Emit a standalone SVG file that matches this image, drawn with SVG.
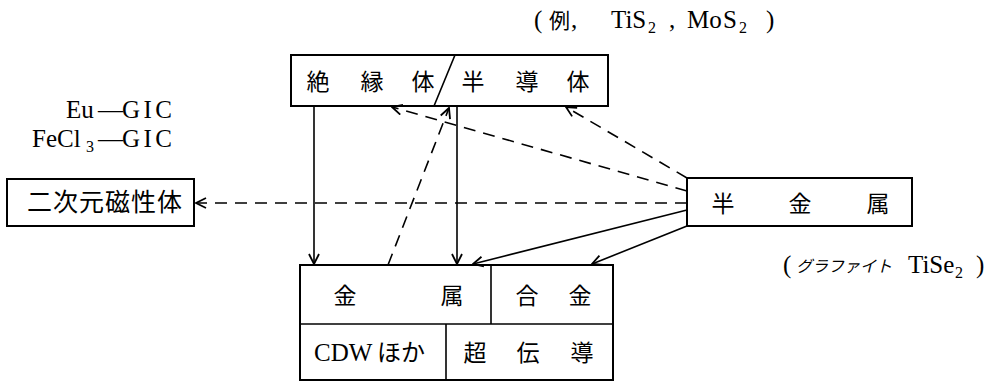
<svg xmlns="http://www.w3.org/2000/svg" width="990" height="384" viewBox="0 0 990 384">
<style>
.box{fill:#fff;stroke:#000;stroke-width:2}
.ln{fill:none;stroke:#000;stroke-width:1.6}
.cj{font-family:"Noto Sans CJK JP","Liberation Serif",serif;font-size:23px;fill:#000;text-anchor:middle}
.lt{font-family:"Liberation Serif","Times New Roman",serif;font-size:25px;fill:#000}
.jp{font-family:"Noto Sans CJK JP",serif;fill:#000}
.sb{font-family:"Liberation Serif",serif;font-size:16px;fill:#000}
.s{stroke:#000;stroke-width:1.6;fill:none}
.d{stroke:#000;stroke-width:1.6;fill:none;stroke-dasharray:12 8}
</style>
<defs>
<marker id="ah" viewBox="0 0 12 12" refX="11" refY="6" markerWidth="12" markerHeight="12" markerUnits="userSpaceOnUse" orient="auto">
<path d="M1,1 L11,6 L1,11" fill="none" stroke="#000" stroke-width="1.8"/>
</marker>
</defs>

<g id="labels">
<text class="lt" x="534" y="28">(</text>
<text class="jp" x="549" y="28" font-size="21">例</text>
<text class="lt" x="571" y="28">,</text>
<text class="lt" x="611" y="28">TiS</text>
<text class="sb" x="648" y="33">2</text>
<text class="lt" x="669" y="28">,</text>
<text class="lt" x="687" y="28">Mo</text>
<text class="lt" x="723" y="28">S</text>
<text class="sb" x="739" y="33">2</text>
<text class="lt" x="766" y="28">)</text>

<text class="lt" x="66" y="118" font-size="26">Eu</text>
<text class="lt" x="98" y="118" font-size="21">—</text>
<text class="lt" x="122" y="118" font-size="26" textLength="50" lengthAdjust="spacing">GIC</text>
<text class="lt" x="32" y="147" font-size="26">FeCl</text>
<text class="sb" x="86" y="152">3</text>
<text class="lt" x="98" y="147" font-size="21">—</text>
<text class="lt" x="122" y="147" font-size="26" textLength="50" lengthAdjust="spacing">GIC</text>

<text class="lt" x="783" y="273">(</text>
<text class="jp" x="796" y="272" font-size="16" font-style="italic">グラファイト</text>
<text class="lt" x="908" y="273">TiSe</text>
<text class="sb" x="955" y="278">2</text>
<text class="lt" x="976" y="273">)</text>
</g>

<g id="node-insulator-semiconductor">
<rect class="box" x="291" y="55" width="317" height="51"/>
<line class="ln" x1="455" y1="55" x2="434" y2="106"/>
<text class="cj" y="90"><tspan x="318">絶</tspan><tspan x="372">縁</tspan><tspan x="423">体</tspan><tspan x="473">半</tspan><tspan x="527">導</tspan><tspan x="578">体</tspan></text>
</g>

<g id="node-2d-magnet">
<rect class="box" x="7" y="179" width="187" height="47"/>
<text class="jp" x="27" y="211" font-size="25" textLength="155" lengthAdjust="spacing">二次元磁性体</text>
</g>

<g id="node-semimetal">
<rect class="box" x="687" y="178" width="225" height="48"/>
<text class="cj" y="212"><tspan x="723">半</tspan><tspan x="800">金</tspan><tspan x="878">属</tspan></text>
</g>

<g id="node-metal-group">
<rect class="box" x="300" y="265" width="313" height="115"/>
<line class="ln" x1="300" y1="324" x2="613" y2="324"/>
<line class="ln" x1="491" y1="265" x2="491" y2="324"/>
<line class="ln" x1="446" y1="324" x2="446" y2="380"/>
<text class="cj" y="304"><tspan x="345">金</tspan><tspan x="452">属</tspan><tspan x="527">合</tspan><tspan x="580">金</tspan></text>
<text class="lt" x="314" y="361" font-size="24">CDW</text>
<text class="jp" x="377" y="361" font-size="24">ほか</text>
<text class="cj" y="361"><tspan x="475">超</tspan><tspan x="528">伝</tspan><tspan x="582">導</tspan></text>
</g>

<g id="connectors">
<line class="s" x1="314" y1="106" x2="314" y2="264" marker-end="url(#ah)"/>
<line class="s" x1="457" y1="106" x2="457" y2="264" marker-end="url(#ah)"/>
<line class="d" x1="388" y1="265" x2="449" y2="108" marker-end="url(#ah)"/>
<line class="d" x1="687" y1="203" x2="196" y2="203" marker-end="url(#ah)"/>
<line class="d" x1="687" y1="178" x2="566" y2="107" marker-end="url(#ah)"/>
<line class="d" x1="687" y1="191" x2="392" y2="107" marker-end="url(#ah)"/>
<line class="s" x1="687" y1="210" x2="473" y2="264" marker-end="url(#ah)"/>
<line class="s" x1="687" y1="226" x2="592" y2="264" marker-end="url(#ah)"/>
</g>
</svg>
